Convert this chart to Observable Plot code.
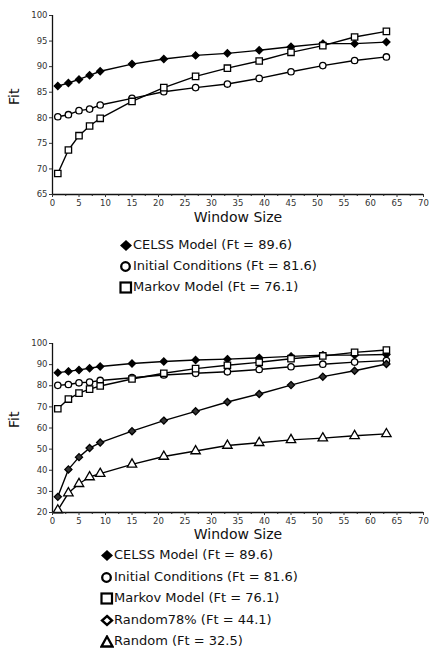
<!DOCTYPE html>
<html><head><meta charset="utf-8">
<script src="https://cdn.jsdelivr.net/npm/d3@7"></script>
<script src="https://cdn.jsdelivr.net/npm/@observablehq/plot@0.6"></script>
<style>
body{margin:0;background:#fff;font-family:"DejaVu Sans",sans-serif;}
#wrap{position:relative;width:430px;height:652px;overflow:hidden;background:#fff;}
.fig{position:absolute;left:0;}
.row{position:absolute;white-space:nowrap;font-size:13px;color:#111;line-height:16px;height:16px;}
.row svg{position:absolute;top:2px;}
.row span{position:absolute;top:0;}
</style></head><body><div id="wrap"></div>
<script>
const windowSizes = [1, 3, 5, 7, 9, 15, 21, 27, 33, 39, 45, 51, 57, 63];
const celss    = [86.2, 86.8, 87.5, 88.3, 89.1, 90.5, 91.5, 92.2, 92.6, 93.2, 93.9, 94.5, 94.5, 94.8];
const initial  = [80.2, 80.6, 81.4, 81.7, 82.5, 83.8, 85.1, 85.9, 86.6, 87.7, 89.0, 90.2, 91.2, 91.9];
const markov   = [69.1, 73.7, 76.5, 78.4, 79.9, 83.2, 85.9, 88.1, 89.7, 91.1, 92.8, 94.1, 95.8, 96.9];
const random78 = [27.4, 40.4, 46.2, 50.5, 53.1, 58.5, 63.5, 67.9, 72.3, 76.1, 80.3, 84.3, 87.1, 90.3];
const random   = [21.1, 29.2, 33.6, 36.8, 38.4, 42.8, 46.5, 49.1, 51.7, 53.0, 54.4, 55.2, 56.3, 57.2];
const xTicks = [0, 5, 10, 15, 20, 25, 30, 35, 40, 45, 50, 55, 60, 65, 70];
const yTicksTop = [65, 70, 75, 80, 85, 90, 95, 100];
const yTicksBottom = [20, 30, 40, 50, 60, 70, 80, 90, 100];
const legendTop = ["CELSS Model (Ft = 89.6)", "Initial Conditions (Ft = 81.6)", "Markov Model (Ft = 76.1)"];
const legendBottom = ["CELSS Model (Ft = 89.6)", "Initial Conditions (Ft = 81.6)", "Markov Model (Ft = 76.1)", "Random78% (Ft = 44.1)", "Random (Ft = 32.5)"];

const styles = {
  celss:   {symbol: "diamond2", fill: "black", r: 3.2},
  initial: {symbol: "circle", fill: "white", r: 3.2},
  markov:  {symbol: "square", fill: "white", r: 3.6},
  random78:{symbol: "diamond2", fill: "#333", r: 3.2},
  random:  {symbol: "triangle", fill: "white", r: 3.5}
};

function rowsOf(key, values) {
  return windowSizes.map((w, i) => ({w, v: values[i], key}));
}

function panel(series, yDomain, yTicks, height, mb, labelDy) {
  const all = series.flatMap(([k, vals]) => rowsOf(k, vals));
  const marks = [
    Plot.line(all, {x: "w", y: "v", z: "key", stroke: "black", strokeWidth: 1.4}),
  ];
  for (const [k, vals] of series) {
    const s = styles[k];
    marks.push(Plot.dot(rowsOf(k, vals), {x: "w", y: "v", symbol: () => s.symbol, r: s.r, fill: s.fill, stroke: "black", strokeWidth: 1.3}));
  }
  marks.push(
    Plot.ruleX([0], {stroke: "#111", strokeWidth: 1.3}),
    Plot.ruleY([yDomain[0]], {stroke: "#111", strokeWidth: 1.3}),
    Plot.axisY({ticks: yTicks, tickSize: 3, tickPadding: 2, fontSize: 8.5, label: null, color: "#333"}),
    Plot.axisX({ticks: xTicks, tickSize: 3, tickPadding: 2, fontSize: 8.5, label: null, color: "#333"}),
    Plot.axisX({ticks: d3.range(2.5, 70, 5), tickSize: 2, tickFormat: () => "", label: null}),
    Plot.text(["Window Size"], {text: d => d, frameAnchor: "bottom", dy: labelDy, fontSize: 14, fill: "#111"}),
    Plot.text(["Fit"], {text: d => d, frameAnchor: "left", dx: -38, rotate: -90, fontSize: 14, fill: "#111"})
  );
  return Plot.plot({
    width: 430, height,
    marginLeft: 52, marginRight: 7, marginTop: 15, marginBottom: mb,
    x: {domain: [0, 70]},
    y: {domain: yDomain},
    symbol: {type: "identity"},
    style: {fontFamily: "DejaVu Sans", background: "white", color: "#222"},
    marks
  });
}

const wrap = document.getElementById("wrap");
function place(el, top) { el.classList.add("fig"); el.style.top = top + "px"; wrap.appendChild(el); }

place(panel([["celss", celss], ["initial", initial], ["markov", markov]], [65, 100], yTicksTop, 230, 36, 27), 0);
place(panel([["celss", celss], ["initial", initial], ["markov", markov], ["random78", random78], ["random", random]], [20, 100], yTicksBottom, 220, 36, 26), 328);

function legendSymbol(key) {
  const ns = "http://www.w3.org/2000/svg";
  const svg = document.createElementNS(ns, "svg");
  svg.setAttribute("width", 14); svg.setAttribute("height", 13);
  let el;
  if (key === "celss") { el = document.createElementNS(ns, "path"); el.setAttribute("d", "M7,1 L13,6.5 L7,12 L1,6.5 Z"); el.setAttribute("fill", "black"); }
  else if (key === "initial") { el = document.createElementNS(ns, "circle"); el.setAttribute("cx", 6.5); el.setAttribute("cy", 6.5); el.setAttribute("r", 4.3); el.setAttribute("fill", "white"); el.setAttribute("stroke", "black"); el.setAttribute("stroke-width", 2.3); }
  else if (key === "markov") { el = document.createElementNS(ns, "rect"); el.setAttribute("x", 1.5); el.setAttribute("y", 1.5); el.setAttribute("width", 10.5); el.setAttribute("height", 10); el.setAttribute("fill", "white"); el.setAttribute("stroke", "black"); el.setAttribute("stroke-width", 2.2); }
  else if (key === "random78") { el = document.createElementNS(ns, "path"); el.setAttribute("d", "M7,2 L12,6.5 L7,11 L2,6.5 Z"); el.setAttribute("fill", "white"); el.setAttribute("stroke", "black"); el.setAttribute("stroke-width", 2.4); }
  else { el = document.createElementNS(ns, "path"); el.setAttribute("d", "M7,1.5 L12.5,11.5 L1.5,11.5 Z"); el.setAttribute("fill", "white"); el.setAttribute("stroke", "black"); el.setAttribute("stroke-width", 2.3); }
  svg.appendChild(el);
  return svg;
}

function legend(labels, keys, x, tops) {
  labels.forEach((lab, i) => {
    const row = document.createElement("div");
    row.className = "row";
    row.style.left = x + "px";
    row.style.top = (tops[i] - 8) + "px";
    const sym = legendSymbol(keys[i]);
    sym.style.left = "0px";
    const span = document.createElement("span");
    span.textContent = lab;
    span.style.left = "14px";
    row.appendChild(sym); row.appendChild(span);
    wrap.appendChild(row);
  });
}
legend(legendTop, ["celss", "initial", "markov"], 119, [245, 266, 287]);
legend(legendBottom, ["celss", "initial", "markov", "random78", "random"], 100, [555, 577, 598, 620, 641]);
</script></body></html>
